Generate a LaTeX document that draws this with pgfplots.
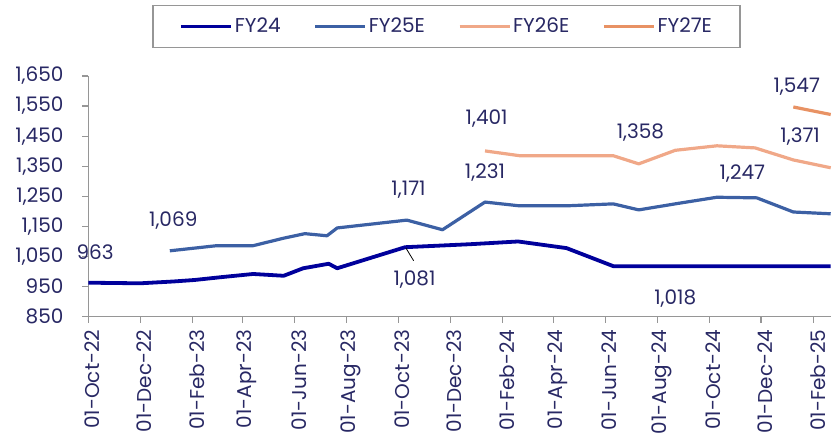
\documentclass[border=0pt]{standalone}
\usepackage{pgfplots}
\pgfplotsset{compat=1.18}
\usepackage{fontspec}
\setmainfont{Poppins}
\definecolor{txt}{RGB}{40,40,100}
\definecolor{cFYa}{RGB}{0,0,155}
\definecolor{cFYb}{RGB}{60,96,164}
\definecolor{cFYc}{RGB}{240,168,136}
\definecolor{cFYd}{RGB}{232,146,100}
\definecolor{axgray}{RGB}{150,150,150}
\begin{document}
\fontsize{20bp}{23bp}\selectfont
\begin{tikzpicture}
\begin{axis}[
  name=ax,
  scale only axis,
  width=742.4bp, height=240.7bp,
  xmin=0, xmax=874, ymin=850, ymax=1650,
  axis x line=bottom, axis y line=left,
  axis line style={-, axgray, line width=1.2bp},
  tick style={axgray, line width=1.2bp},
  tick align=outside,
  major tick length=6bp,
  xtick={0,61,123,182,243,304,365,426,488,548,609,670,731,792,854},
  xticklabels={01-Oct-22,01-Dec-22,01-Feb-23,01-Apr-23,01-Jun-23,01-Aug-23,01-Oct-23,01-Dec-23,01-Feb-24,01-Apr-24,01-Jun-24,01-Aug-24,01-Oct-24,01-Dec-24,01-Feb-25},
  xticklabel style={rotate=90, anchor=east, yshift=-4bp, text=txt, font=\fontsize{20bp}{23bp}\selectfont},
  ytick={850,950,...,1650},
  yticklabel style={xshift=-12bp, text=txt, font=\fontsize{20bp}{23bp}\selectfont},
  /pgf/number format/.cd, 1000 sep={,}, assume math mode=true,
  /pgfplots/.cd,
  clip=false,
  legend columns=4,
  legend style={at={(0.4825,1.2057)}, anchor=center, draw=axgray, line width=1.5bp,
    font=\fontsize{20bp}{23bp}\selectfont, text=txt,
    /tikz/every even column/.append style={column sep=31bp},
    inner xsep=26bp, inner ysep=10bp},
  legend image code/.code={\draw[#1] (0bp,0bp) -- (50bp,0bp);},
]
\addplot[cFYa, line width=3.8bp, line join=round] coordinates {
(0,963) (61,961) (100,967) (125,972) (155,981) (194,992) (230,986) (253,1011)
(283,1026) (293,1011) (373,1081) (450,1091) (506,1100) (563,1078) (618,1018) (874,1018)};
\addlegendentry{FY24}
\addplot[cFYb, line width=3.2bp, line join=round] coordinates {
(96,1069) (151,1086) (194,1086) (230,1111) (255,1126) (281,1119) (293,1145)
(375,1171) (417,1139) (467,1231) (506,1219) (567,1219) (618,1225) (648,1205)
(693,1226) (740,1247) (787,1245) (830,1198) (874,1192)};
\addlegendentry{FY25E}
\addplot[cFYc, line width=3.2bp, line join=round] coordinates {
(467,1401) (508,1385) (618,1385) (648,1358) (691,1403) (740,1418) (785,1411)
(830,1371) (874,1345)};
\addlegendentry{FY26E}
\addplot[cFYd, line width=3.2bp, line join=round] coordinates {
(830,1547) (874,1522)};
\addlegendentry{FY27E}
\draw[black, line width=0.8bp] (axis cs:374,1078) -- (axis cs:383,1036);
\begin{scope}[every node/.style={text=txt, font=\fontsize{20bp}{23bp}\selectfont}]
\node at (axis cs:8,1063) {963};
\node at (axis cs:100,1170) {1,069};
\node at (axis cs:377,1272) {1,171};
\node at (axis cs:384,972) {1,081};
\node at (axis cs:467,1330) {1,231};
\node at (axis cs:469,1508) {1,401};
\node at (axis cs:650,1463) {1,358};
\node at (axis cs:770,1326) {1,247};
\node at (axis cs:838,1450) {1,371};
\node at (axis cs:834,1615) {1,547};
\node at (axis cs:691,911) {1,018};
\end{scope}
\end{axis}
\pgfresetboundingbox
\path ([xshift=-88.3bp,yshift=-120.3bp]ax.south west) rectangle ++(840bp,437bp);
\end{tikzpicture}
\end{document}
